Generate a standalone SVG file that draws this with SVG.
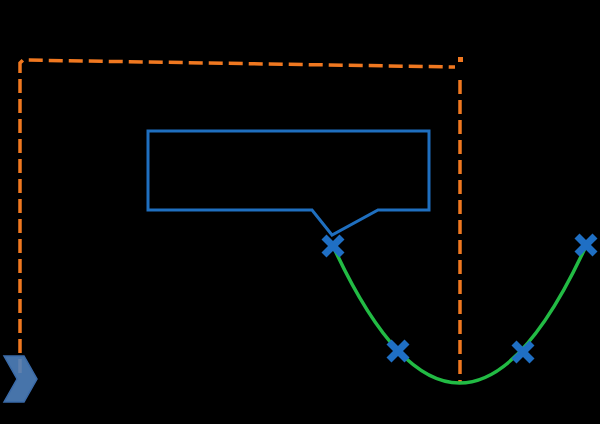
<svg xmlns="http://www.w3.org/2000/svg" width="600" height="424" viewBox="0 0 600 424">
  <style>
    .conn { fill: none; stroke: #f07820; stroke-width: 3.5; stroke-dasharray: 14 6; }
    .curve { fill: none; stroke: #22bb44; stroke-width: 3.5; }
    .callout { fill: none; stroke: #1f6fbf; stroke-width: 3; stroke-linejoin: miter; }
    .mark { stroke: #1f6fc4; stroke-width: 7; stroke-linecap: butt; }
  </style>
  <defs>
    <g id="xmark">
      <line class="mark" x1="-9" y1="-9" x2="9" y2="9"/>
      <line class="mark" x1="-9" y1="9" x2="9" y2="-9"/>
    </g>
  </defs>
  <rect width="600" height="424" fill="#000"/>
  <g id="connectors">
    <polyline class="conn" points="20,373 20,63 23,60 455,67"/>
    <polyline class="conn" points="460,80 460,382"/>
    <rect x="458" y="57" width="5" height="5" fill="#f07820"/>
    <path id="arc" class="curve" d="M333,246 Q459.5,520 586,246"/>
  </g>
  <g id="callout">
    <path class="callout" d="M148,131 H429 V210 H378 L332,235 L312,210 H148 Z"/>
  </g>
  <g id="chevron">
    <polygon points="4,356 24,356 37,379 24,402 4,402 17,379" fill="#4f81bd" fill-opacity="0.9" stroke="#3a6aa8" stroke-width="1.5"/>
  </g>
  <g id="marker1"><use href="#xmark" x="333" y="246"/></g>
  <g id="marker2"><use href="#xmark" x="398" y="351"/></g>
  <g id="marker3"><use href="#xmark" x="523" y="352"/></g>
  <g id="marker4"><use href="#xmark" x="586" y="245"/></g>
</svg>
